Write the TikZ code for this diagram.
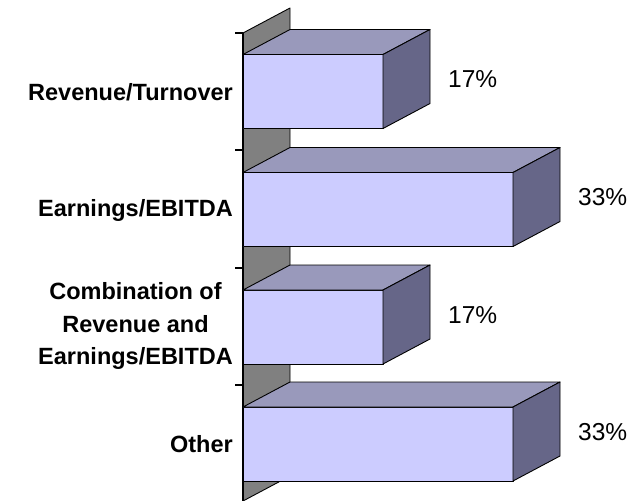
\documentclass[tikz,border=0pt]{standalone}
\usepackage{fontspec}
\setmainfont{Liberation Sans}
\usetikzlibrary{positioning}
\definecolor{barfront}{HTML}{CCCCFF}
\definecolor{bartop}{HTML}{9999BB}
\definecolor{barside}{HTML}{666688}
\definecolor{wallgray}{HTML}{808080}

\begin{document}
\begin{tikzpicture}[x=1pt,y=-1pt,line join=round]
\tikzset{cat/.style={font=\fontsize{23.5}{32.5}\selectfont\bfseries,align=center,anchor=east,inner sep=0pt},
  pct/.style={font=\fontsize{24.5}{28}\selectfont,anchor=west,inner sep=0pt},
  face/.style={draw=black,line width=0.9pt}}
\useasboundingbox (0,0) rectangle (639,500);
% back wall and axis
\fill[wallgray] (243,33)--(290,8)--(290,476)--(243,501)--cycle;
\draw[line width=0.9pt] (243,33)--(290,8)--(290,476)--(243,501);
\draw[line width=1.5pt] (243,33)--(243,501);
\foreach \y in {33,150,268,385} \draw[line width=1.2pt] (235,\y)--(243,\y);
% bars
\foreach \n/\yc/\len/\val in {1/91.5/140/17,2/209.5/270/33,3/327/140/17,4/444/270/33}{
  \draw[face,fill=barfront] (243,\yc-37) rectangle (243+\len,\yc+37);
  \draw[face,fill=bartop] (243,\yc-37)--(290,\yc-62)--(290+\len,\yc-62)--(243+\len,\yc-37)--cycle;
  \draw[face,fill=barside] (243+\len,\yc-37)--(290+\len,\yc-62)--(290+\len,\yc+12)--(243+\len,\yc+37)--cycle;
  \node[pct] (pct\n) at (290+\len+18,\yc-12) {\val\%};
}
% category labels
\node[cat] (rev) at (233,92) {Revenue/Turnover};
\node[cat] (earn) at (233,210) {Earnings/EBITDA};
\node[cat] (comb) at (233,326) {Combination of\\Revenue and\\Earnings/EBITDA};
\node[cat] (other) at (233,444) {Other};
\end{tikzpicture}
\end{document}
